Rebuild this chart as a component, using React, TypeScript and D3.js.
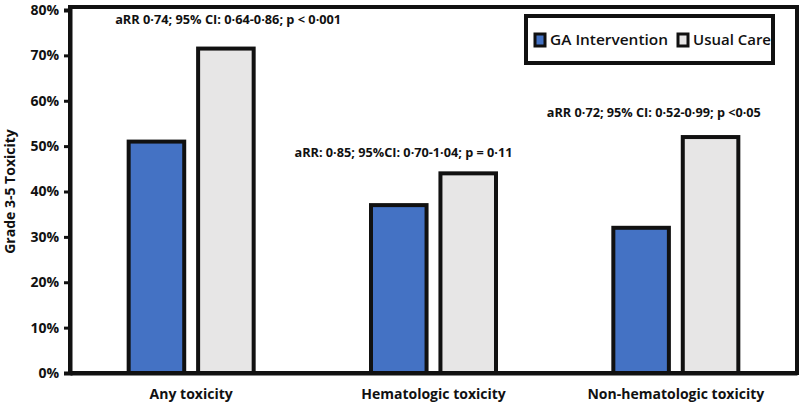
import React, { useEffect, useRef } from 'react'
import * as d3 from 'd3'

const categories = ['Any toxicity', 'Hematologic toxicity', 'Non-hematologic toxicity']
const seriesNames = ['GA Intervention', 'Usual Care']
const gaValues = [0.51, 0.37, 0.32]
const usualValues = [0.715, 0.44, 0.52]
const annotations = [
  'aRR 0·74; 95% CI: 0·64-0·86; p < 0·001',
  'aRR: 0·85; 95%CI: 0·70-1·04; p = 0·11',
  'aRR 0·72; 95% CI: 0·52-0·99; p <0·05',
]
const yTicks = [0, 0.1, 0.2, 0.3, 0.4, 0.5, 0.6, 0.7, 0.8]

const App = () => {
  const svgRef = useRef<SVGSVGElement>(null)

  useEffect(() => {
    document.body.style.margin = '0'
    const width = 800
    const height = 407
    const margin = { top: 10, right: 3, bottom: 34, left: 70 }
    const font = 'Open Sans, sans-serif'
    const ink = '#111'

    const svg = d3.select(svgRef.current).attr('width', width).attr('height', height)
    svg.selectAll('*').remove()

    const x0 = d3
      .scaleBand()
      .domain(categories)
      .range([margin.left, width - margin.right])
    const x1 = d3.scaleBand().domain(seriesNames).range([0, 125]).paddingInner(0.2)
    const y = d3.scaleLinear().domain([0, 0.8]).range([height - margin.bottom, margin.top])

    const colors = ['#4472C4', '#E7E6E6']
    const rows = categories.map((c, i) => ({ c, vals: [gaValues[i], usualValues[i]] }))

    // frame (top and right lines)
    svg
      .append('rect')
      .attr('x', margin.left)
      .attr('y', margin.top - 3)
      .attr('width', width - margin.right - margin.left)
      .attr('height', y(0) - margin.top + 3)
      .attr('fill', 'none')
      .attr('stroke', ink)
      .attr('stroke-width', 4)

    // bars
    const groups = svg
      .selectAll('g.grp')
      .data(rows)
      .join('g')
      .attr('class', 'grp')
      .attr('transform', (d) => `translate(${x0(d.c)! + x0.bandwidth() / 2 - 62.5},0)`)

    groups
      .selectAll('rect')
      .data((d) => d.vals.map((v, i) => ({ v, s: seriesNames[i], i })))
      .join('rect')
      .attr('x', (d) => x1(d.s)!)
      .attr('y', (d) => y(d.v))
      .attr('width', x1.bandwidth())
      .attr('height', (d) => y(0) - y(d.v))
      .attr('fill', (d) => colors[d.i])
      .attr('stroke', ink)
      .attr('stroke-width', 4)

    // annotations
    const annOffsets = [usualValues[0] + 0.055, usualValues[1] + 0.035, usualValues[2] + 0.045]
    svg
      .selectAll('text.ann')
      .data(annotations)
      .join('text')
      .attr('class', 'ann')
      .attr('x', (_, i) => x0(categories[i])! + x0.bandwidth() / 2 + [37, -30, -22][i])
      .attr('y', (_, i) => y(annOffsets[i]))
      .attr('text-anchor', 'middle')
      .attr('font-family', font)
      .attr('font-weight', 'bold')
      .attr('font-size', 12)
      .attr('textLength', (_, i) => [226, 218, 214][i])
      .attr('lengthAdjust', 'spacingAndGlyphs')
      .attr('fill', ink)
      .text((d) => d)

    // y axis
    const yAxis = d3
      .axisLeft(y)
      .tickValues(yTicks)
      .tickSize(6)
      .tickPadding(5)
      .tickFormat((d) => d3.format('.0%')(d as number))
    const yg = svg.append('g').attr('transform', `translate(${margin.left},0)`).call(yAxis)
    yg.select('.domain').attr('stroke', ink).attr('stroke-width', 4)
    yg.selectAll('.tick line').attr('stroke', ink).attr('stroke-width', 3)
    yg.selectAll('.tick text')
      .attr('font-family', font)
      .attr('font-weight', 'bold')
      .attr('font-size', 14)
      .attr('fill', ink)

    // x axis
    const xAxis = d3.axisBottom(x0).tickSize(0).tickPadding(16)
    const xg = svg.append('g').attr('transform', `translate(0,${y(0)})`).call(xAxis)
    xg.select('.domain').attr('stroke', ink).attr('stroke-width', 4)
    xg.selectAll('.tick text')
      .attr('font-family', font)
      .attr('font-weight', 'bold')
      .attr('font-size', 14)
      .attr('fill', ink)

    // y title
    svg
      .append('text')
      .attr('transform', `translate(15,${(margin.top + y(0)) / 2}) rotate(-90)`)
      .attr('text-anchor', 'middle')
      .attr('font-family', font)
      .attr('font-weight', 'bold')
      .attr('font-size', 14)
      .attr('fill', ink)
      .text('Grade 3-5 Toxicity')

    // legend
    const lg = svg.append('g').attr('transform', 'translate(526,16)')
    lg.append('rect')
      .attr('width', 247)
      .attr('height', 47)
      .attr('fill', 'white')
      .attr('stroke', ink)
      .attr('stroke-width', 4)
    const items = lg
      .selectAll('g.item')
      .data(seriesNames)
      .join('g')
      .attr('class', 'item')
      .attr('transform', (_, i) => `translate(${[9, 152][i]},24)`)
    items
      .append('rect')
      .attr('x', 0)
      .attr('y', -6)
      .attr('width', 10)
      .attr('height', 12)
      .attr('fill', (_, i) => colors[i])
      .attr('stroke', ink)
      .attr('stroke-width', 3)
    items
      .append('text')
      .attr('x', 15)
      .attr('dy', '0.35em')
      .attr('font-family', font)
      .attr('font-weight', 600)
      .attr('font-size', 15)
      .attr('textLength', (_, i) => [118, 78][i])
      .attr('lengthAdjust', 'spacingAndGlyphs')
      .attr('fill', ink)
      .text((d) => d)
  }, [])

  return <svg ref={svgRef}></svg>
}

export default App
